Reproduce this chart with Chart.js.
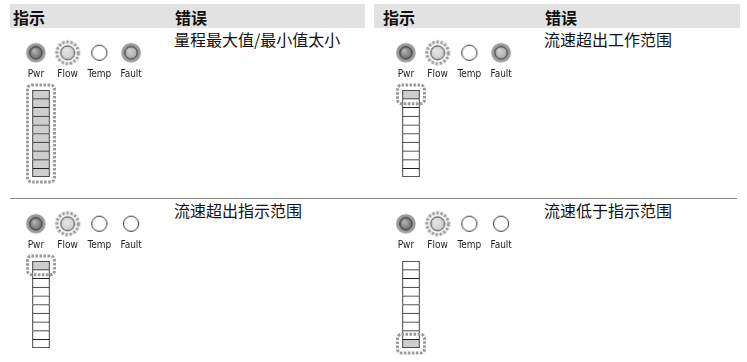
<!DOCTYPE html>
<html>
<head>
<meta charset="utf-8">
<script src="https://cdn.jsdelivr.net/npm/chart.js@4/dist/chart.umd.min.js"></script>
<style>
    body { margin: 0; width: 747px; height: 362px; position: relative; background: #fff; overflow: hidden;
           font-family: "Noto Sans CJK SC", sans-serif; color: #111; }
    .band { position: absolute; top: 4px; height: 24px; background: #e2e2e2; }
    .head { position: absolute; top: 7px; font-size: 16px; line-height: 20px; font-weight: bold; }
    .msg { position: absolute; font-size: 16px; line-height: 20px; white-space: nowrap; }
    .rule { position: absolute; top: 198px; height: 1px; background: #8a8a8a; }
    canvas { position: absolute; }
</style>
</head>
<body>
<script>
// Indicator table: LED states and bargraph per error

const headerLabels = ['指示', '错误'];
const ledLabels = ['Pwr', 'Flow', 'Temp', 'Fault'];
const ledShades = ['#6c6c6c', '#cdcdcd', '#ffffff', '#a8a8a8'];

const errorTexts = ['量程最大值/最小值太小', '流速超出工作范围', '流速超出指示范围', '流速低于指示范围'];

// LED state: 2 = on, 1 = blinking, 0 = off (Pwr, Flow, Temp, Fault)
const ledsRangeTooSmall  = [2, 1, 0, 2];
const ledsFlowOverWork   = [2, 1, 0, 2];
const ledsFlowOverScale  = [2, 1, 0, 0];
const ledsFlowUnderScale = [2, 1, 0, 0];

// Bargraph segments, bottom first: 0 = dark, 1 = lit, 2 = lit and blinking
const barRangeTooSmall  = [2, 2, 2, 2, 2, 2, 2, 2, 2, 2];
const barFlowOverWork   = [0, 0, 0, 0, 0, 0, 0, 0, 0, 2];
const barFlowOverScale  = [0, 0, 0, 0, 0, 0, 0, 0, 0, 2];
const barFlowUnderScale = [2, 0, 0, 0, 0, 0, 0, 0, 0, 0];

const panels = [
    { text: errorTexts[0], leds: ledsRangeTooSmall,  bar: barRangeTooSmall,  col: 0,   row: 28 },
    { text: errorTexts[1], leds: ledsFlowOverWork,   bar: barFlowOverWork,   col: 370, row: 28 },
    { text: errorTexts[2], leds: ledsFlowOverScale,  bar: barFlowOverScale,  col: 0,   row: 199 },
    { text: errorTexts[3], leds: ledsFlowUnderScale, bar: barFlowUnderScale, col: 370, row: 199 }
];

const ringGray = '#9b9b9b';

function addEl(tag, cls, style, text) {
    const el = document.createElement(tag);
    if (cls) el.className = cls;
    Object.assign(el.style, style);
    if (text) el.textContent = text;
    document.body.appendChild(el);
    return el;
}

function paintCore(g, m, r, shade) {
    g.beginPath();
    g.arc(m, m, r, 0, Math.PI * 2);
    g.fillStyle = shade;
    g.fill();
    const hi = g.createRadialGradient(m - r * 0.3, m - r * 0.35, 0, m, m, r);
    hi.addColorStop(0, 'rgba(255,255,255,0.55)');
    hi.addColorStop(1, 'rgba(255,255,255,0)');
    g.fillStyle = hi;
    g.fill();
    g.lineWidth = 1;
    g.strokeStyle = '#333';
    g.stroke();
}

// pre-rendered LED glyphs, used as point styles
function ledIcon(state, shade) {
    const c = document.createElement('canvas');
    c.width = c.height = 30;
    const g = c.getContext('2d');
    const m = 15;
    if (state === 2) {
        g.beginPath();
        g.arc(m, m, 9.8, 0, Math.PI * 2);
        g.fillStyle = ringGray;
        g.fill();
        paintCore(g, m, 6.2, shade);
    } else if (state === 1) {
        g.setLineDash([2.6, 1.5]);
        g.lineWidth = 3.2;
        g.strokeStyle = ringGray;
        g.beginPath();
        g.arc(m, m, 10.8, 0, Math.PI * 2);
        g.stroke();
        g.setLineDash([]);
        paintCore(g, m, 7, shade);
    } else {
        g.beginPath();
        g.arc(m, m, 7.6, 0, Math.PI * 2);
        g.fillStyle = '#fff';
        g.fill();
        g.lineWidth = 1;
        g.strokeStyle = '#333';
        g.stroke();
    }
    return c;
}

// dashed halo round the blinking segments
const blinkHalo = {
    id: 'blinkHalo',
    afterDatasetsDraw(chart) {
        let top = Infinity, bottom = -Infinity, x = 0, w = 0;
        chart.data.datasets.forEach((ds, i) => {
            if (!ds.blink) return;
            const el = chart.getDatasetMeta(i).data[0];
            const p = el.getProps(['x', 'y', 'base', 'width'], true);
            top = Math.min(top, p.y);
            bottom = Math.max(bottom, p.base);
            x = p.x;
            w = p.width;
        });
        if (top === Infinity) return;
        const ctx = chart.ctx;
        ctx.save();
        ctx.setLineDash([2.6, 1.4]);
        ctx.lineWidth = 3;
        ctx.strokeStyle = ringGray;
        ctx.beginPath();
        ctx.roundRect(x - w / 2 - 5, top - 5, w + 10, bottom - top + 10, 4);
        ctx.stroke();
        ctx.restore();
    }
};

function makeCanvas(left, top, width, height) {
    const c = addEl('canvas', null, { left: left + 'px', top: top + 'px' });
    c.width = width;
    c.height = height;
    return c;
}

// header bands and separators
addEl('div', 'band', { left: '10px', width: '355px' });
addEl('div', 'band', { left: '374px', width: '366px' });
addEl('div', 'head', { left: '13px' }, headerLabels[0]);
addEl('div', 'head', { left: '175px' }, headerLabels[1]);
addEl('div', 'head', { left: '383px' }, headerLabels[0]);
addEl('div', 'head', { left: '545px' }, headerLabels[1]);
addEl('div', 'rule', { left: '10px', width: '727px' });

panels.forEach(p => {
    addEl('div', 'msg', { left: (p.col + 174) + 'px', top: (p.row + 1) + 'px' }, p.text);

    new Chart(makeCanvas(p.col, p.row + 4, 159, 52), {
        type: 'line',
        data: {
            labels: ledLabels,
            datasets: [{
                data: ledLabels.map(() => 0),
                showLine: false,
                pointStyle: p.leds.map((s, i) => ledIcon(s, ledShades[i])),
                pointRadius: 11,
                clip: false
            }]
        },
        options: {
            responsive: false,
            animation: false,
            events: [],
            layout: { padding: { top: 7, left: 20, right: 2, bottom: 0 } },
            plugins: { legend: { display: false }, tooltip: { enabled: false } },
            scales: {
                x: {
                    offset: true,
                    grid: { display: false, drawTicks: false },
                    border: { display: false },
                    ticks: {
                        color: '#222',
                        padding: 7,
                        autoSkip: false,
                        maxRotation: 0,
                        minRotation: 0,
                        font: { family: "'Liberation Sans Narrow', 'DejaVu Sans Condensed', 'Liberation Sans', sans-serif", size: 10 }
                    }
                },
                y: { display: false, min: -1, max: 1 }
            }
        }
    });

    new Chart(makeCanvas(p.col + 21, p.row + 54, 40, 103), {
        type: 'bar',
        data: {
            labels: [''],
            datasets: p.bar.map((s, i) => ({
                data: [1],
                backgroundColor: s ? '#cecece' : '#ffffff',
                borderColor: '#222',
                borderWidth: 1,
                borderSkipped: i === 0 ? false : 'start',
                barThickness: 17,
                blink: s === 2
            }))
        },
        options: {
            responsive: false,
            animation: false,
            events: [],
            layout: { padding: { top: 8, bottom: 8 } },
            plugins: { legend: { display: false }, tooltip: { enabled: false } },
            scales: {
                x: { display: false, stacked: true },
                y: { display: false, stacked: true, min: 0, max: 10 }
            }
        },
        plugins: [blinkHalo]
    });
});
</script>
</body>
</html>
